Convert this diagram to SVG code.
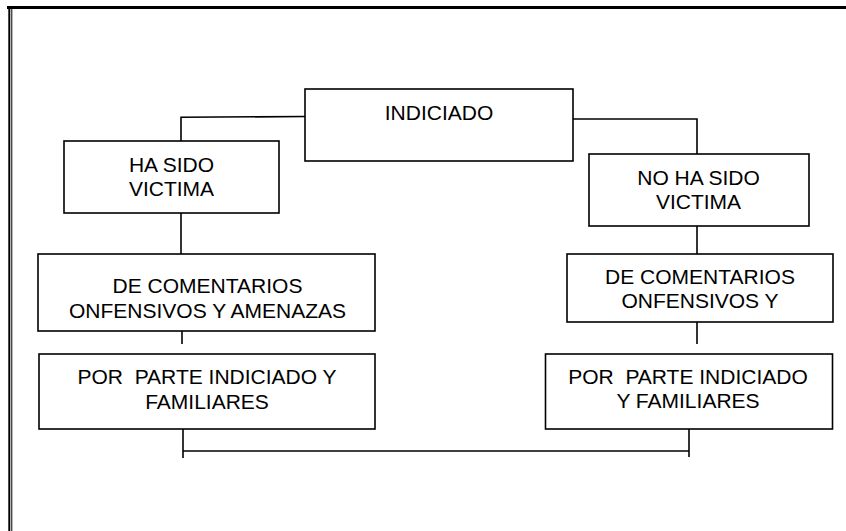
<svg xmlns="http://www.w3.org/2000/svg" width="846" height="531" viewBox="0 0 846 531">
<style>
.box{fill:#fff;stroke:#000;stroke-width:1.6}
.t{font-family:"Liberation Sans",Arial,sans-serif;font-size:21px;fill:#000;text-anchor:middle;white-space:pre}
.c{fill:none;stroke:#000;stroke-width:1.6}
</style>
<rect width="846" height="531" fill="#fff"/>
<g id="border">
<line x1="7" y1="7.5" x2="846" y2="7.5" stroke="#000" stroke-width="3"/>
<line x1="9.3" y1="6" x2="9.3" y2="531" stroke="#000" stroke-width="2"/>
<line x1="11.8" y1="9" x2="11.8" y2="531" stroke="#000" stroke-width="1"/>
</g>
<g id="connectors">
<path class="c" d="M306,116.5 L181,117.3 V141"/>
<path class="c" d="M573,119 H697 V154"/>
<path class="c" d="M181,213 V254"/>
<path class="c" d="M697,226 V254"/>
<path class="c" d="M182,331 V344"/>
<path class="c" d="M697,321 V344"/>
<path class="c" d="M183,426 V458"/>
<path class="c" d="M183,451 H689"/>
<path class="c" d="M689,425 V457"/>
</g>
<g id="indiciado">
<rect class="box" x="305" y="89" width="268" height="72"/>
<text class="t" x="439" y="120">INDICIADO</text>
</g>
<g id="ha-sido-victima">
<rect class="box" x="64" y="141" width="215" height="72"/>
<text class="t" x="171.5" y="172">HA SIDO</text>
<text class="t" x="171.5" y="196">VICTIMA</text>
</g>
<g id="no-ha-sido-victima">
<rect class="box" x="589" y="154" width="220" height="72"/>
<text class="t" x="698.5" y="184.5">NO HA SIDO</text>
<text class="t" x="698.5" y="209">VICTIMA</text>
</g>
<g id="comentarios-izq">
<rect class="box" x="38" y="254" width="337" height="77"/>
<text class="t" x="207.5" y="293">DE COMENTARIOS</text>
<text class="t" x="207.5" y="318">ONFENSIVOS Y AMENAZAS</text>
</g>
<g id="comentarios-der">
<rect class="box" x="567" y="254" width="266" height="68"/>
<text class="t" x="700" y="284">DE COMENTARIOS</text>
<text class="t" x="700" y="308">ONFENSIVOS Y</text>
</g>
<g id="por-parte-izq">
<rect class="box" x="39" y="354" width="336" height="75"/>
<text class="t" x="207" y="384" xml:space="preserve">POR  PARTE INDICIADO Y</text>
<text class="t" x="207" y="409">FAMILIARES</text>
</g>
<g id="por-parte-der">
<rect class="box" x="545.5" y="354" width="287" height="75"/>
<text class="t" x="688" y="384" xml:space="preserve">POR  PARTE INDICIADO</text>
<text class="t" x="688" y="407.5">Y FAMILIARES</text>
</g>
</svg>
